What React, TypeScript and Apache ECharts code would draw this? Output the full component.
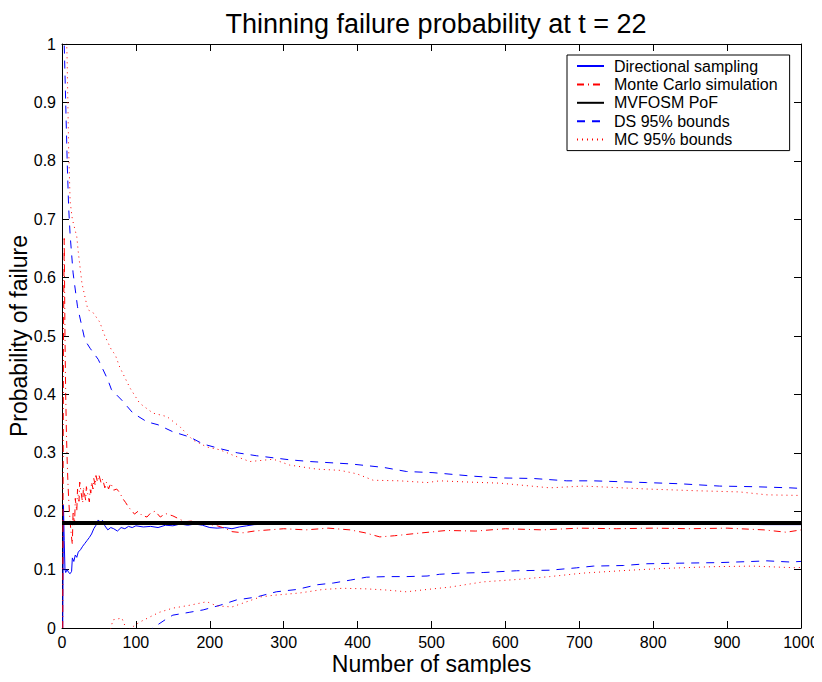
import React, { useEffect, useRef } from "react";
import * as echarts from "echarts";

const titleText = "Thinning failure probability at t = 22";
const xLabel = "Number of samples";
const yLabel = "Probability of failure";
const seriesNames = [
  "Directional sampling",
  "Monte Carlo simulation",
  "MVFOSM PoF",
  "DS 95% bounds",
  "MC 95% bounds",
];

const mvfosmPoF = 0.18;
const mvfosmSpan = [0, 1000];

const dsEstimate: number[][] = [
  [1, 0], [2, 0.21], [3, 0.15], [4, 0.1], [5, 0.095], [7, 0.1], [9, 0.095], [11, 0.093],
  [13, 0.097], [14, 0.12], [16, 0.114], [18, 0.125], [20, 0.121], [22, 0.13], [25, 0.134],
  [28, 0.14], [31, 0.145], [34, 0.15], [37, 0.155], [40, 0.161], [43, 0.17], [46, 0.176],
  [49, 0.185], [52, 0.181], [55, 0.184], [58, 0.175], [62, 0.168], [66, 0.172], [70, 0.17],
  [75, 0.166], [80, 0.172], [85, 0.17], [90, 0.174], [95, 0.172], [100, 0.175], [110, 0.173],
  [120, 0.174], [130, 0.172], [140, 0.176], [150, 0.175], [160, 0.178], [170, 0.176],
  [180, 0.178], [190, 0.176], [200, 0.172], [210, 0.171], [220, 0.172], [230, 0.17],
  [240, 0.173], [250, 0.175], [260, 0.177], [280, 0.178], [300, 0.179], [350, 0.179],
  [390, 0.182], [420, 0.182], [450, 0.18], [500, 0.179], [600, 0.18], [700, 0.179],
  [800, 0.18], [900, 0.178], [950, 0.177], [1000, 0.177],
];

const mcEstimate: number[][] = [
  [1, 0], [2, 0.5], [3, 0.667], [4, 0.5], [5, 0.4], [6, 0.333], [7, 0.286], [8, 0.25],
  [9, 0.222], [10, 0.2], [11, 0.182], [12, 0.167], [13, 0.154], [14, 0.143], [15, 0.2],
  [16, 0.188], [17, 0.176], [18, 0.222], [19, 0.21], [20, 0.2], [21, 0.238], [22, 0.227],
  [23, 0.217], [24, 0.25], [25, 0.24], [26, 0.231], [27, 0.222], [28, 0.214], [29, 0.241],
  [30, 0.233], [31, 0.226], [32, 0.219], [33, 0.242], [34, 0.235], [35, 0.229], [36, 0.222],
  [37, 0.216], [38, 0.237], [39, 0.231], [40, 0.25], [42, 0.238], [43, 0.256], [45, 0.244],
  [46, 0.261], [48, 0.25], [50, 0.262], [53, 0.248], [55, 0.255], [58, 0.24], [60, 0.25],
  [63, 0.238], [66, 0.248], [70, 0.236], [74, 0.238], [78, 0.232], [82, 0.222], [86, 0.215],
  [90, 0.207], [95, 0.2], [98, 0.195], [103, 0.2], [108, 0.193], [115, 0.19], [120, 0.197],
  [126, 0.2], [133, 0.19], [140, 0.196], [150, 0.192], [158, 0.187], [166, 0.182],
  [175, 0.183], [185, 0.18], [197, 0.178], [210, 0.175], [220, 0.171], [230, 0.165],
  [245, 0.163], [260, 0.166], [280, 0.168], [300, 0.17], [330, 0.168], [360, 0.171],
  [390, 0.168], [410, 0.163], [430, 0.156], [450, 0.158], [480, 0.162], [520, 0.167],
  [560, 0.166], [600, 0.17], [650, 0.168], [700, 0.171], [750, 0.17], [800, 0.171],
  [850, 0.17], [900, 0.171], [950, 0.168], [980, 0.164], [1000, 0.168],
];

const dsUpper: number[][] = [
  [2, 1.1], [3, 1.0], [5, 0.9], [7, 0.8], [9, 0.72], [11, 0.673], [15, 0.608], [21, 0.55],
  [31, 0.493], [38, 0.479], [49, 0.46], [62, 0.425], [67, 0.408], [81, 0.39], [96, 0.368],
  [115, 0.353], [130, 0.348], [150, 0.336], [173, 0.327], [191, 0.315], [214, 0.307],
  [237, 0.3], [263, 0.295], [308, 0.288], [336, 0.285], [390, 0.281], [435, 0.275],
  [466, 0.268], [502, 0.266], [556, 0.26], [593, 0.257], [638, 0.256], [683, 0.252],
  [719, 0.252], [791, 0.249], [836, 0.247], [890, 0.243], [935, 0.242], [985, 0.24],
  [1000, 0.239],
];

const dsLower: number[][] = [
  [115, -0.01], [123, 0], [143, 0.017], [150, 0.022], [173, 0.027], [191, 0.031],
  [214, 0.039], [236, 0.048], [263, 0.053], [290, 0.062], [318, 0.066], [345, 0.074],
  [367, 0.077], [390, 0.082], [412, 0.087], [439, 0.088], [466, 0.088], [494, 0.089],
  [511, 0.092], [539, 0.094], [570, 0.095], [615, 0.098], [660, 0.099], [696, 0.103],
  [719, 0.106], [760, 0.107], [791, 0.11], [836, 0.111], [890, 0.112], [935, 0.114],
  [954, 0.115], [985, 0.113], [1000, 0.114],
];

const mcUpper: number[][] = [
  [6, 1.02], [7, 0.97], [9, 0.82], [11, 0.73], [14, 0.7], [18, 0.68], [20, 0.67],
  [22, 0.644], [27, 0.59], [35, 0.545], [42, 0.54], [51, 0.524], [58, 0.5], [67, 0.476],
  [72, 0.468], [78, 0.447], [92, 0.411], [105, 0.385], [123, 0.368], [142, 0.362],
  [160, 0.344], [177, 0.322], [196, 0.31], [214, 0.305], [231, 0.296], [254, 0.285],
  [286, 0.289], [308, 0.279], [345, 0.272], [376, 0.27], [399, 0.264], [421, 0.253],
  [457, 0.252], [494, 0.249], [511, 0.252], [548, 0.25], [593, 0.248], [660, 0.24],
  [705, 0.243], [724, 0.242], [791, 0.238], [859, 0.235], [917, 0.233], [954, 0.228],
  [998, 0.227],
];

const mcLower: number[][] = [
  [64, -0.01], [69, 0.014], [81, 0.017], [88, -0.005], [98, 0.004], [105, 0.01],
  [119, 0.019], [132, 0.027], [150, 0.034], [173, 0.039], [196, 0.045], [209, 0.038],
  [230, 0.036], [268, 0.053], [286, 0.056], [322, 0.06], [353, 0.066], [380, 0.068],
  [412, 0.067], [439, 0.065], [466, 0.062], [494, 0.066], [525, 0.07], [570, 0.079],
  [615, 0.083], [660, 0.088], [705, 0.094], [769, 0.099], [814, 0.102], [881, 0.105],
  [935, 0.106], [995, 0.103], [1000, 0.104],
];

const FONT = "'Liberation Sans', Arial, Helvetica, sans-serif";

export default function App() {
  const ref = useRef<HTMLDivElement>(null);
  useEffect(() => {
    if (!ref.current) return;
    const chart = echarts.init(ref.current, undefined, { renderer: "svg" });
    const axisCommon = {
      type: "value" as const,
      axisLine: { show: true, onZero: false, lineStyle: { color: "#000", width: 1 } },
      axisTick: { show: true, inside: true, length: 7, lineStyle: { color: "#000" } },
      splitLine: { show: false },
      nameMoveOverlap: false,
    };
    const blue = "#0000ff";
    const red = "#ff0000";
    const base = { type: "line" as const, showSymbol: false, symbol: "none", clip: true, silent: true };
    chart.setOption({
      animation: false,
      backgroundColor: "#fff",
      title: {
        text: titleText,
        left: 431,
        textAlign: "center",
        top: 5,
        textStyle: { fontFamily: FONT, fontSize: 27, fontWeight: "normal", color: "#000" },
      },
      legend: {
        orient: "vertical",
        left: 567,
        top: 55,
        data: seriesNames,
        backgroundColor: "#fff",
        borderColor: "#000",
        borderWidth: 1,
        borderRadius: 0,
        padding: [3, 12, 3, 9],
        itemGap: 2.4,
        itemWidth: 27,
        itemHeight: 16,
        selectedMode: false,
        itemStyle: { opacity: 0 },
        textStyle: { fontFamily: FONT, fontSize: 16, color: "#000", padding: [0, 0, 0, 5], lineHeight: 16 },
      },
      grid: { left: 62, right: 21, top: 44, bottom: 54, containLabel: false, outerBoundsMode: "none" },
      xAxis: [
        {
          ...axisCommon,
          position: "bottom",
          min: 0,
          max: 1000,
          interval: 100,
          name: xLabel,
          nameLocation: "middle",
          nameGap: 24,
          nameTextStyle: { fontFamily: FONT, fontSize: 23, color: "#000", lineHeight: 23 },
          axisLabel: { fontFamily: FONT, fontSize: 16, color: "#000", margin: 6, lineHeight: 16, formatter: (v: number) => String(v) },
        },
        {
          ...axisCommon,
          position: "top",
          min: 0,
          max: 1000,
          interval: 100,
          axisLabel: { show: false },
        },
      ],
      yAxis: [
        {
          ...axisCommon,
          position: "left",
          min: 0,
          max: 1,
          interval: 0.1,
          name: yLabel,
          nameLocation: "middle",
          nameGap: 32,
          nameTextStyle: { fontFamily: FONT, fontSize: 23, color: "#000" },
          axisLabel: { fontFamily: FONT, fontSize: 16, color: "#000", margin: 6 },
        },
        {
          ...axisCommon,
          position: "right",
          min: 0,
          max: 1,
          interval: 0.1,
          axisLabel: { show: false },
        },
      ],
      series: [
        { ...base, name: seriesNames[0], data: dsEstimate, lineStyle: { color: blue, width: 1 }, itemStyle: { color: blue }, z: 2 },
        { ...base, name: seriesNames[1], data: mcEstimate, lineStyle: { color: red, width: 1, type: [7, 4, 1, 4] }, itemStyle: { color: red }, z: 2 },
        {
          ...base,
          name: seriesNames[2],
          data: mvfosmSpan.map((x) => [x, mvfosmPoF]),
          lineStyle: { color: "#000", width: 4 },
          itemStyle: { color: "#000" },
          z: 3,
        },
        { ...base, name: seriesNames[3], data: dsUpper, lineStyle: { color: blue, width: 1, type: [8, 7] }, itemStyle: { color: blue }, z: 4 },
        { ...base, name: seriesNames[4], data: mcUpper, lineStyle: { color: red, width: 1, type: [1, 4] }, itemStyle: { color: red }, z: 4 },
        { ...base, name: "DS lower", data: dsLower, lineStyle: { color: blue, width: 1, type: [8, 7] }, itemStyle: { color: blue }, z: 4 },
        { ...base, name: "MC lower", data: mcLower, lineStyle: { color: red, width: 1, type: [1, 4] }, itemStyle: { color: red }, z: 4 },
      ],
    });
    return () => chart.dispose();
  }, []);
  return <div ref={ref} style={{ width: 822, height: 682, margin: -8 }} />;
}
